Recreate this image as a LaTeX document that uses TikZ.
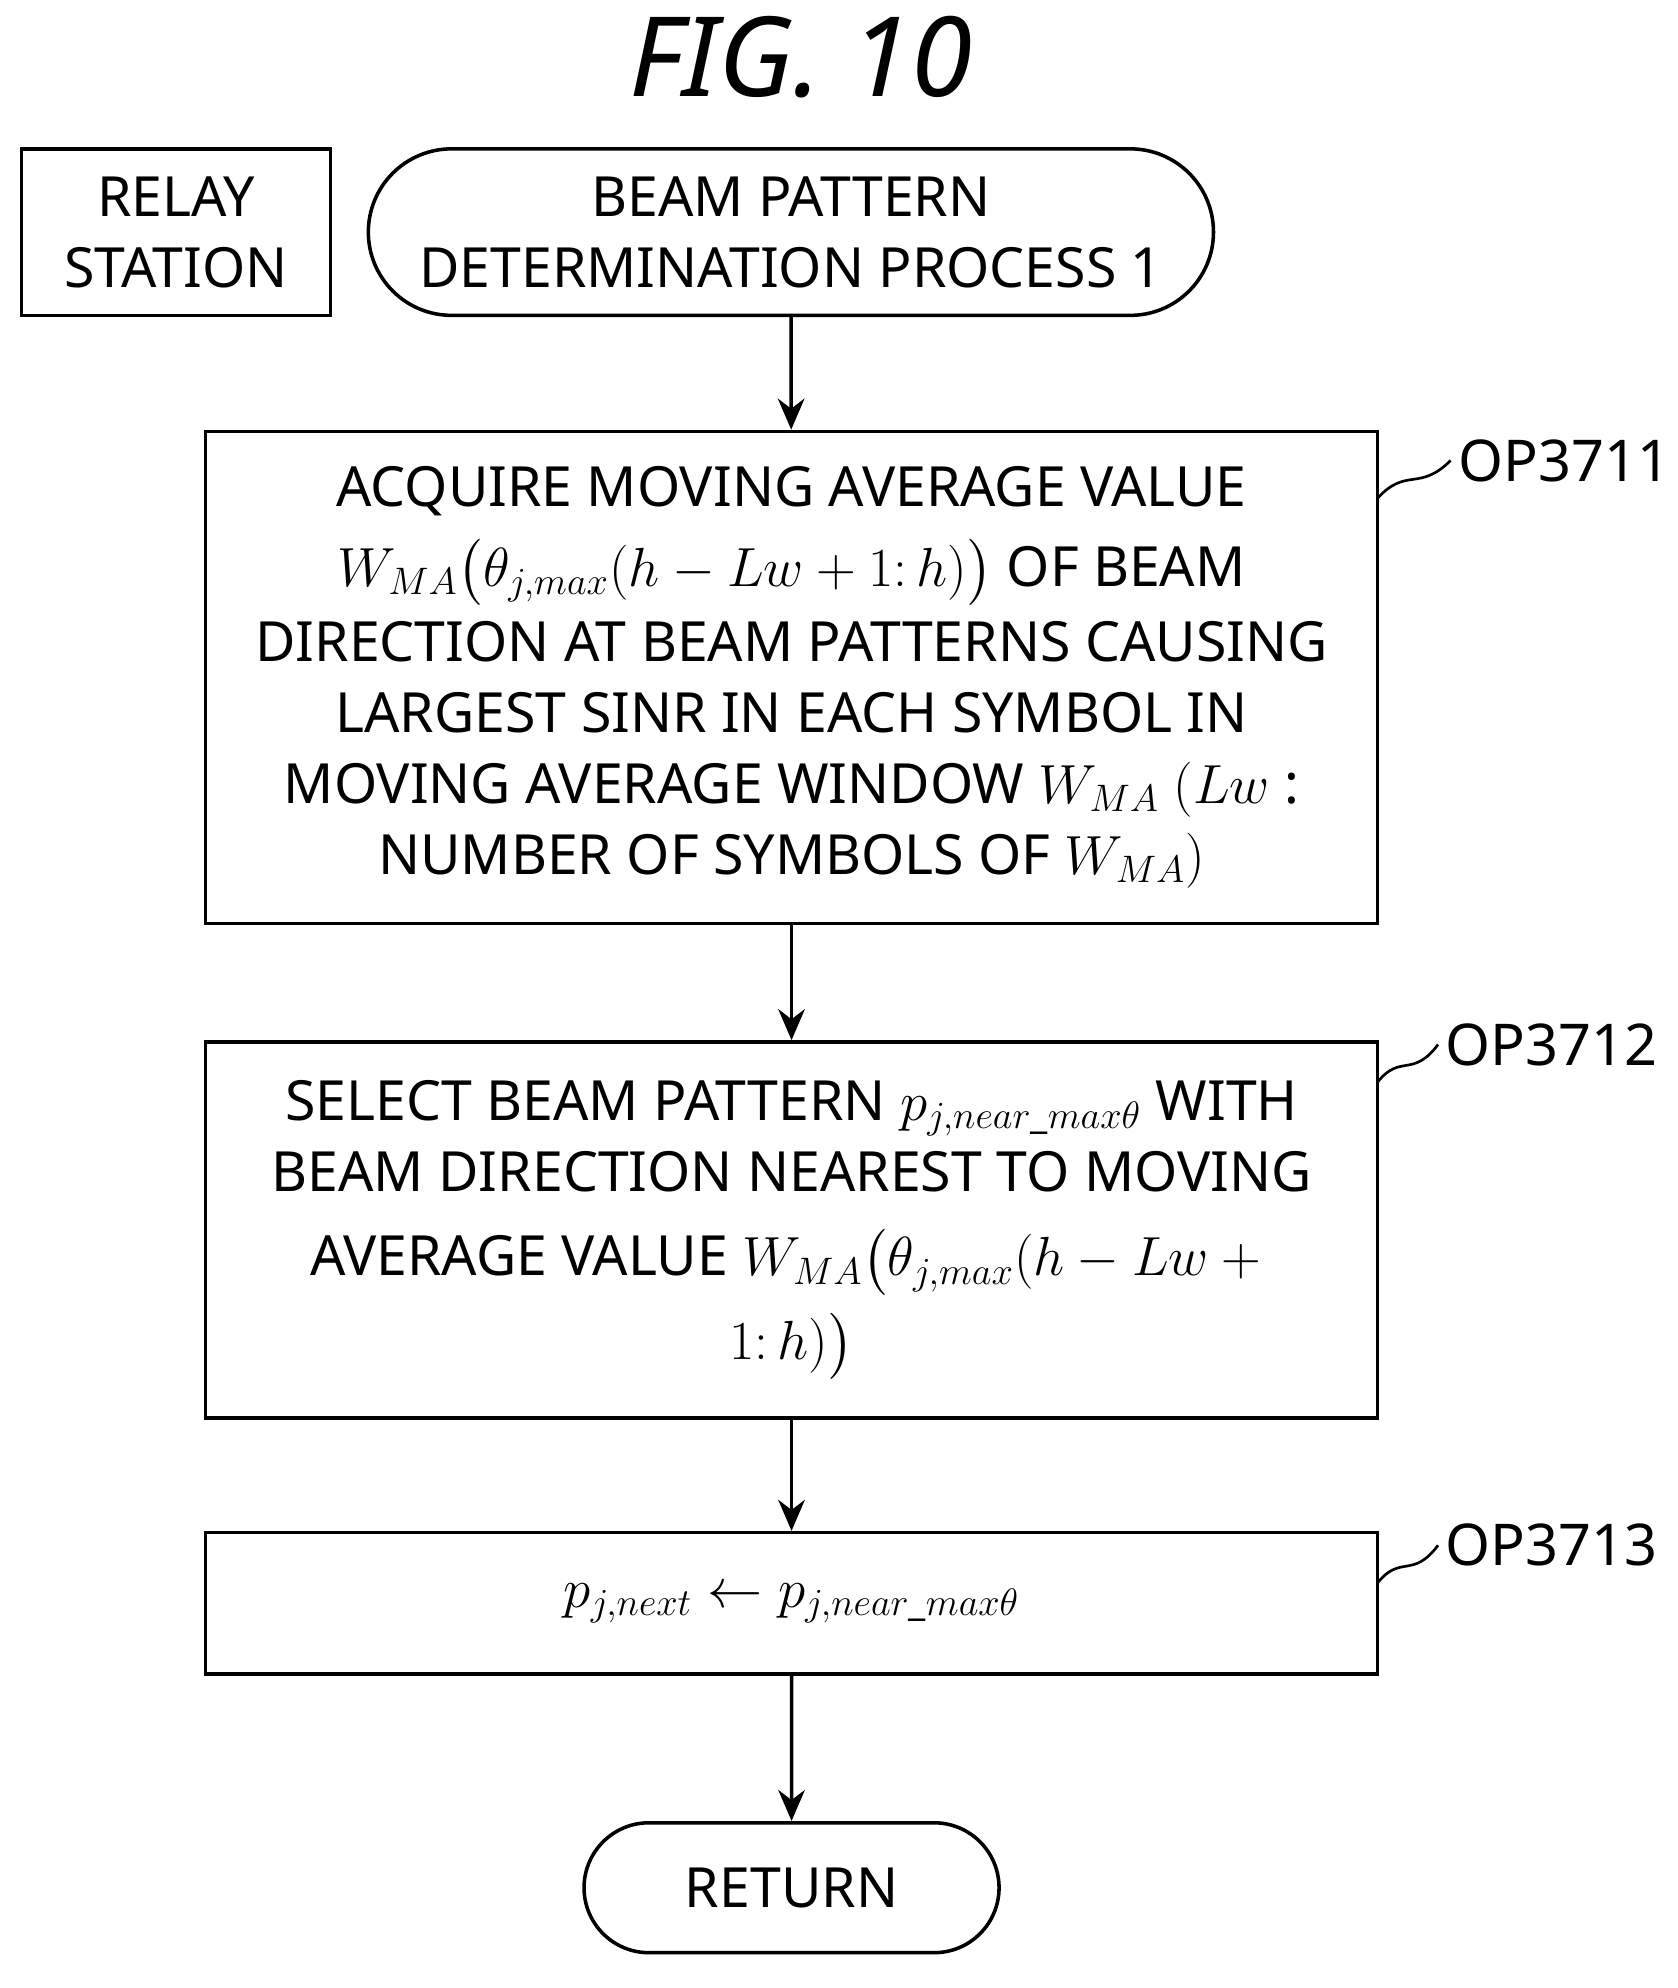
\documentclass[tikz,border=0pt]{standalone}
\usepackage{amsmath}
\usepackage{fontspec}
\setmainfont{Noto Sans}
\usetikzlibrary{arrows.meta,shapes.misc}
\begin{document}
\begin{tikzpicture}[x=0.02cm,y=-0.02cm,
  every node/.style={font=\fontsize{25}{32}\selectfont, align=center},
  box/.style={draw, line width=1.6pt, inner sep=0pt},
  arr/.style={line width=1.6pt, -{Stealth[length=14pt,width=12pt]}},
  lab/.style={font=\fontsize{26}{30}\selectfont, anchor=west},
  sq/.style={line width=1.2pt}]
\useasboundingbox (0,0) rectangle (1330,1576);
\node (title) at (635,45) {\fontsize{50}{56}\selectfont\itshape FIG. 10};
\node[box, minimum width=245*0.02cm, minimum height=132*0.02cm] (relay) at (139.5,184) {RELAY\\STATION};
\node[box, rounded rectangle, minimum width=670*0.02cm, minimum height=132*0.02cm] (start) at (627,184) {BEAM PATTERN\\DETERMINATION PROCESS 1};
\node[box, minimum width=929*0.02cm, minimum height=390*0.02cm] (b1) at (627.5,537) {ACQUIRE MOVING AVERAGE VALUE\\[4pt]
$W_{MA}\bigl(\theta_{j,max}(h-Lw+1{:}\,h)\bigr)$ OF BEAM\\[2pt]
DIRECTION AT BEAM PATTERNS CAUSING\\
LARGEST SINR IN EACH SYMBOL IN\\
MOVING AVERAGE WINDOW $W_{MA}$ $(Lw$ :\\
NUMBER OF SYMBOLS OF $W_{MA})$};
\node[box, minimum width=929*0.02cm, minimum height=298*0.02cm] (b2) at (627.5,975) {SELECT BEAM PATTERN $p_{j,near\_max\theta}$ WITH\\
BEAM DIRECTION NEAREST TO MOVING\\[6pt]
AVERAGE VALUE $W_{MA}\bigl(\theta_{j,max}(h-Lw+{}$\\[6pt]
$1{:}\,h)\bigr)$};
\node[box, minimum width=929*0.02cm, minimum height=112*0.02cm] (b3) at (627.5,1271) {$p_{j,next}\leftarrow p_{j,near\_max\theta}$};
\node[box, rounded rectangle, minimum width=329*0.02cm, minimum height=103*0.02cm] (ret) at (627.5,1496.5) {RETURN};
\draw[arr] (start) -- (b1);
\draw[arr] (b1) -- (b2);
\draw[arr] (b2) -- (b3);
\draw[arr] (b3) -- (ret);
\node[lab] (l1) at (1150,365) {OP3711};
\node[lab] (l2) at (1140,828) {OP3712};
\node[lab] (l3) at (1140,1225) {OP3713};
\coordinate (c1) at (1092,395);
\coordinate (c2) at (1092,858);
\coordinate (c3) at (1092,1255);
\draw[sq] (c1) .. controls (1115,370) and (1125,390) .. (l1.west);
\draw[sq] (c2) .. controls (1110,835) and (1120,855) .. (l2.west);
\draw[sq] (c3) .. controls (1110,1232) and (1120,1252) .. (l3.west);
\end{tikzpicture}
\end{document}
